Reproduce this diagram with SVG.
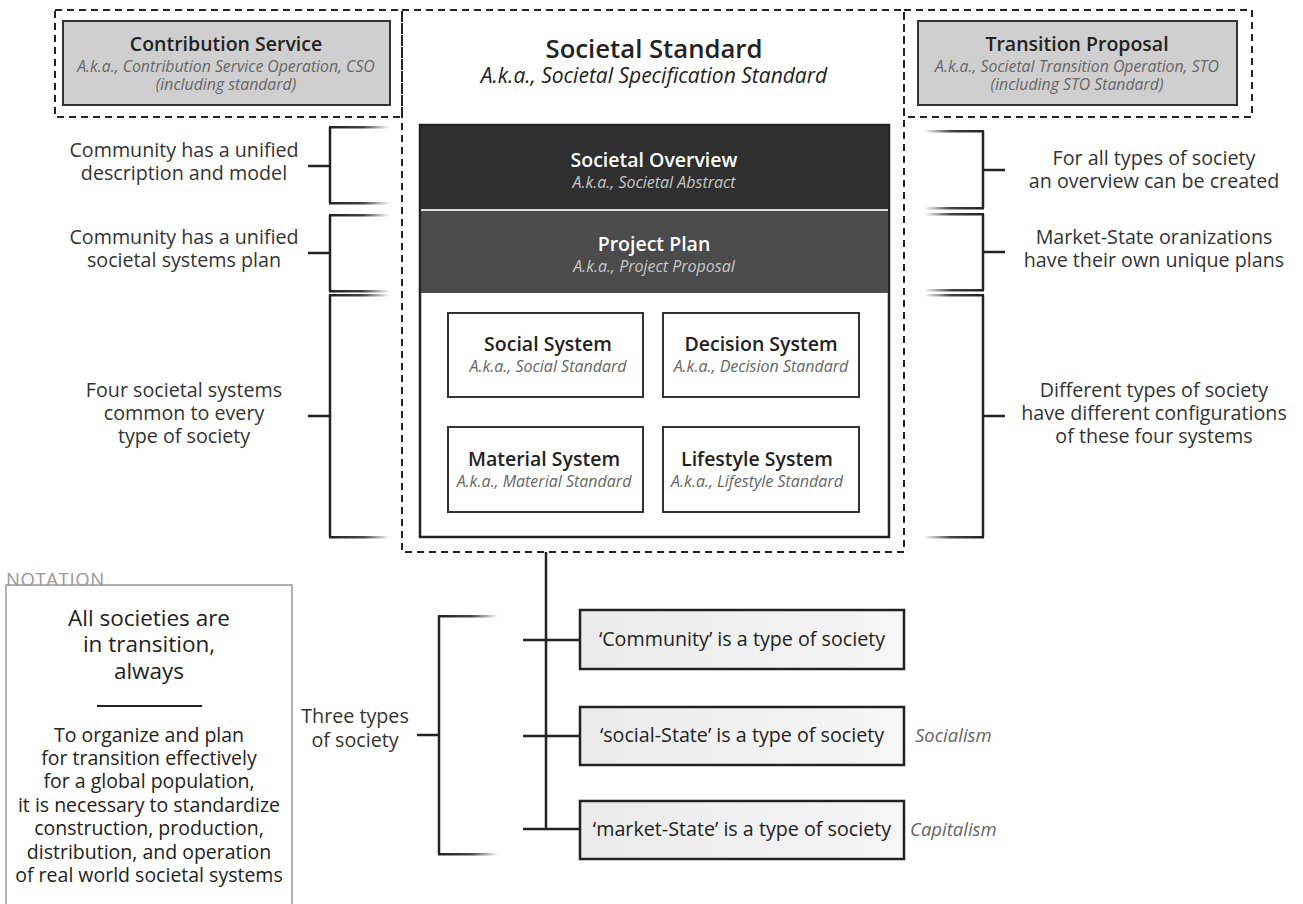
<svg xmlns="http://www.w3.org/2000/svg" width="1303" height="904" viewBox="0 0 1303 904">
  <defs>
    <linearGradient id="armR" x1="0" y1="0" x2="1" y2="0">
      <stop offset="0" stop-color="#222"/>
      <stop offset="0.55" stop-color="#444"/>
      <stop offset="1" stop-color="#fff"/>
    </linearGradient>
    <linearGradient id="armL" x1="1" y1="0" x2="0" y2="0">
      <stop offset="0" stop-color="#222"/>
      <stop offset="0.55" stop-color="#444"/>
      <stop offset="1" stop-color="#fff"/>
    </linearGradient>
    <linearGradient id="typeFill" x1="0" y1="0" x2="1" y2="0">
      <stop offset="0" stop-color="#ebebeb"/>
      <stop offset="1" stop-color="#f6f6f6"/>
    </linearGradient>
    <style>
      text { font-family: "Open Sans", "Noto Sans", "Liberation Sans", sans-serif; }
      .dash { fill: none; stroke: #222; stroke-width: 2; stroke-dasharray: 7 5; }
      .grey { fill: #cfcfcf; stroke: #333; stroke-width: 2; }
      .frame { fill: #fff; stroke: #222; stroke-width: 2.5; }
      .sys { fill: #fff; stroke: #333; stroke-width: 2; }
      .type { fill: url(#typeFill); stroke: #222; stroke-width: 2.5; }
      .ln { fill: none; stroke: #222; stroke-width: 2.5; }
      .armR { fill: url(#armR); }
      .armL { fill: url(#armL); }
      .title { font-weight: 600; fill: #222; text-anchor: middle; font-size: 19.5px; }
      .aka { font-style: italic; fill: #666; text-anchor: middle; font-size: 16px; }
      .lbl { fill: #333; font-size: 19.7px; text-anchor: middle; }
      .note { fill: #222; text-anchor: middle; }
      .ism { fill: #666; font-style: italic; font-size: 18.5px; }
    </style>
  </defs>

  <!-- dashed regions -->
  <g id="regions">
    <rect class="dash" x="55" y="10" width="347" height="107"/>
    <rect class="dash" x="402" y="10" width="502" height="542"/>
    <rect class="dash" x="904" y="10" width="348" height="107"/>
  </g>

  <!-- connectors and brackets -->
  <g id="connectors">
    <!-- left brackets -->
    <path class="ln" d="M330 127 V203 M308 166 H330"/>
    <rect class="armR" x="329" y="126" width="61" height="2.5"/>
    <rect class="armR" x="329" y="202" width="61" height="2.5"/>
    <path class="ln" d="M330 215 V291 M308 253 H330"/>
    <rect class="armR" x="329" y="214" width="61" height="2.5"/>
    <rect class="armR" x="329" y="290" width="61" height="2.5"/>
    <path class="ln" d="M330 295 V537 M308 416 H330"/>
    <rect class="armR" x="329" y="294" width="61" height="2.5"/>
    <rect class="armR" x="329" y="536" width="61" height="2.5"/>
    <!-- right brackets -->
    <path class="ln" d="M983 131 V208 M983 170 H1005"/>
    <rect class="armL" x="924" y="130" width="60" height="2.5"/>
    <rect class="armL" x="924" y="207" width="60" height="2.5"/>
    <path class="ln" d="M983 214 V290 M983 252 H1005"/>
    <rect class="armL" x="924" y="213" width="60" height="2.5"/>
    <rect class="armL" x="924" y="289" width="60" height="2.5"/>
    <path class="ln" d="M983 295 V537 M983 416 H1005"/>
    <rect class="armL" x="924" y="294" width="60" height="2.5"/>
    <rect class="armL" x="924" y="536" width="60" height="2.5"/>
    <!-- trunk to the society types -->
    <path class="ln" d="M546 552 V829 M523 640 H580 M523 736 H580 M523 829 H580"/>
    <!-- three-types bracket -->
    <path class="ln" d="M439 616 V854 M417 735 H439"/>
    <rect class="armR" x="438" y="615" width="60" height="2.5"/>
    <rect class="armR" x="438" y="853" width="60" height="2.5"/>
  </g>

  <g id="contribution-service">
    <rect class="grey" x="63" y="21" width="327" height="84"/>
    <text class="title" x="226" y="51">Contribution Service</text>
    <text class="aka" x="226" y="72" style="font-size:15.8px">A.k.a., Contribution Service Operation, CSO</text>
    <text class="aka" x="226" y="90" style="font-size:15.8px">(including standard)</text>
  </g>

  <g id="societal-standard">
    <text class="title" x="654" y="58" style="font-size:25.7px">Societal Standard</text>
    <text class="aka" x="654" y="83" style="font-size:21px;fill:#222">A.k.a., Societal Specification Standard</text>
  </g>

  <g id="transition-proposal">
    <rect class="grey" x="918" y="21" width="319" height="84"/>
    <text class="title" x="1077" y="51">Transition Proposal</text>
    <text class="aka" x="1077" y="72" style="font-size:15.8px">A.k.a., Societal Transition Operation, STO</text>
    <text class="aka" x="1077" y="90" style="font-size:15.8px">(including STO Standard)</text>
  </g>

  <g id="specification">
    <rect class="frame" x="420" y="125" width="469" height="412"/>
    <rect x="421" y="126" width="467" height="83" fill="#2f2f2f"/>
    <rect x="421" y="211" width="467" height="82" fill="#4b4b4b"/>
    <line x1="421" y1="210" x2="888" y2="210" stroke="#ddd" stroke-width="2"/>
  </g>

  <g id="societal-overview">
    <text class="title" x="654" y="167" style="fill:#fff">Societal Overview</text>
    <text class="aka" x="654" y="188" style="fill:#c8c8c8">A.k.a., Societal Abstract</text>
  </g>

  <g id="project-plan">
    <text class="title" x="654" y="251" style="fill:#fff">Project Plan</text>
    <text class="aka" x="654" y="272" style="fill:#c8c8c8">A.k.a., Project Proposal</text>
  </g>

  <g id="social-system">
    <rect class="sys" x="448" y="313" width="195" height="84"/>
    <text class="title" x="548" y="351">Social System</text>
    <text class="aka" x="548" y="372">A.k.a., Social Standard</text>
  </g>
  <g id="decision-system">
    <rect class="sys" x="663" y="313" width="196" height="84"/>
    <text class="title" x="761" y="351">Decision System</text>
    <text class="aka" x="761" y="372">A.k.a., Decision Standard</text>
  </g>
  <g id="material-system">
    <rect class="sys" x="448" y="427" width="195" height="85"/>
    <text class="title" x="544" y="466">Material System</text>
    <text class="aka" x="544" y="487">A.k.a., Material Standard</text>
  </g>
  <g id="lifestyle-system">
    <rect class="sys" x="663" y="427" width="196" height="85"/>
    <text class="title" x="757" y="466">Lifestyle System</text>
    <text class="aka" x="757" y="487">A.k.a., Lifestyle Standard</text>
  </g>

  <!-- side labels -->
  <g id="left-labels">
    <text class="lbl" x="184" y="157">Community has a unified</text>
    <text class="lbl" x="184" y="180">description and model</text>
    <text class="lbl" x="184" y="244">Community has a unified</text>
    <text class="lbl" x="184" y="267">societal systems plan</text>
    <text class="lbl" x="184" y="397">Four societal systems</text>
    <text class="lbl" x="184" y="420">common to every</text>
    <text class="lbl" x="184" y="443">type of society</text>
  </g>
  <g id="right-labels">
    <text class="lbl" x="1154" y="165">For all types of society</text>
    <text class="lbl" x="1154" y="188">an overview can be created</text>
    <text class="lbl" x="1154" y="244">Market-State oranizations</text>
    <text class="lbl" x="1154" y="267">have their own unique plans</text>
    <text class="lbl" x="1154" y="397">Different types of society</text>
    <text class="lbl" x="1154" y="420">have different configurations</text>
    <text class="lbl" x="1154" y="443">of these four systems</text>
  </g>

  <g id="three-types">
    <text class="lbl" x="355" y="723">Three types</text>
    <text class="lbl" x="355" y="747">of society</text>
  </g>

  <g id="community">
    <rect class="type" x="580" y="610" width="324" height="59"/>
    <text class="lbl" x="742" y="646" style="fill:#222">‘Community’ is a type of society</text>
  </g>
  <g id="social-state">
    <rect class="type" x="580" y="707" width="324" height="58"/>
    <text class="lbl" x="742" y="742" style="fill:#222">‘social-State’ is a type of society</text>
    <text class="ism" x="915" y="742">Socialism</text>
  </g>
  <g id="market-state">
    <rect class="type" x="580" y="801" width="324" height="58"/>
    <text class="lbl" x="742" y="836" style="fill:#222">‘market-State’ is a type of society</text>
    <text class="ism" x="910" y="836">Capitalism</text>
  </g>

  <g id="notation">
    <rect x="6" y="585" width="286" height="330" fill="#fff" stroke="#999" stroke-width="1.5"/>
    <text x="6" y="586" font-size="18.5" letter-spacing="0.6" fill="#999">NOTATION</text>
    <text class="note" x="149" y="626" font-size="22.5">All societies are</text>
    <text class="note" x="149" y="652" font-size="22.5">in transition,</text>
    <text class="note" x="149" y="679" font-size="22.5">always</text>
    <line x1="97" y1="706" x2="202" y2="706" stroke="#222" stroke-width="2"/>
    <text class="note" x="149" y="742" font-size="19.5">To organize and plan</text>
    <text class="note" x="149" y="765" font-size="19.5">for transition effectively</text>
    <text class="note" x="149" y="788" font-size="19.5">for a global population,</text>
    <text class="note" x="149" y="812" font-size="19.5">it is necessary to standardize</text>
    <text class="note" x="149" y="835" font-size="19.5">construction, production,</text>
    <text class="note" x="149" y="859" font-size="19.5">distribution, and operation</text>
    <text class="note" x="149" y="882" font-size="19.5">of real world societal systems</text>
  </g>
</svg>
